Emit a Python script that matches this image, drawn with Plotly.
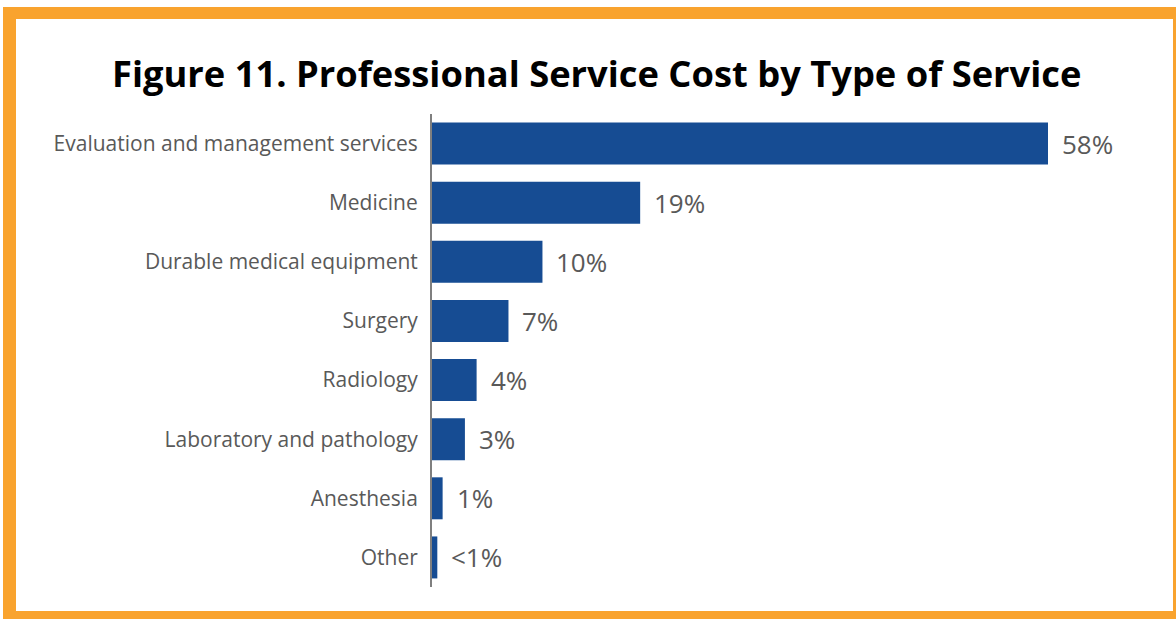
import plotly.graph_objects as go

categories = ["Evaluation and management services", "Medicine", "Durable medical equipment",
              "Surgery", "Radiology", "Laboratory and pathology", "Anesthesia", "Other"]
values = [58.0, 19.6, 10.4, 7.2, 4.2, 3.1, 1.0, 0.5]
value_labels = ["58%", "19%", "10%", "7%", "4%", "3%", "1%", "<1%"]
title_text = "Figure 11. Professional Service Cost by Type of Service"

W, H = 1176, 619
L, R, T, B = 432, 46, 114, 32
PW, PH = W - L - R, H - T - B
XMAX = PW / (616 / 58.0)

def px(xp):
    return (xp - L) / PW

def py(yp):
    return 1 - (yp - T) / PH

BLUE = "#164c93"
GRAY = "#595959"
ORANGE = "#f9a32e"

fig = go.Figure()
fig.add_trace(go.Bar(
    x=values, y=categories, orientation="h",
    marker=dict(color=BLUE, line=dict(width=0)),
    width=0.71, hoverinfo="skip",
))

annotations = []
for c, v, lab in zip(categories, values, value_labels):
    annotations.append(dict(
        x=v, y=c, xref="x", yref="y", text=lab, showarrow=False,
        xanchor="left", yanchor="middle", xshift=12,
        font=dict(family="Open Sans", size=26, color=GRAY),
    ))
annotations.append(dict(
    x=px(596), y=py(73), xref="paper", yref="paper", text="<b>" + title_text + "</b>",
    showarrow=False, xanchor="center", yanchor="middle",
    font=dict(family="Open Sans", size=36.3, color="#000000"),
))

shapes = [
    dict(type="rect", xref="paper", yref="paper", x0=px(3), x1=px(1190), y0=py(7), y1=py(640),
         fillcolor=ORANGE, line=dict(width=0), layer="below"),
    dict(type="rect", xref="paper", yref="paper", x0=px(16), x1=px(1173), y0=py(19), y1=py(611),
         fillcolor="#ffffff", line=dict(width=0), layer="below"),
]

fig.update_layout(
    width=W, height=H,
    margin=dict(l=L, r=R, t=T, b=B, autoexpand=False),
    paper_bgcolor="#ffffff", plot_bgcolor="rgba(0,0,0,0)",
    showlegend=False,
    annotations=annotations,
    shapes=shapes,
    xaxis=dict(range=[0, XMAX], visible=False, fixedrange=True),
    yaxis=dict(
        categoryorder="array", categoryarray=categories, autorange="reversed",
        showline=True, linecolor="#7f7f7f", linewidth=2, ticks="",
        showgrid=False, zeroline=False, ticklabelstandoff=8,
        tickfont=dict(family="Open Sans", size=21, color=GRAY),
        fixedrange=True,
    ),
)

fig.write_html("out.html", config={"displayModeBar": False},
               post_script="document.body.style.margin='0px';document.body.style.overflow='hidden';")
